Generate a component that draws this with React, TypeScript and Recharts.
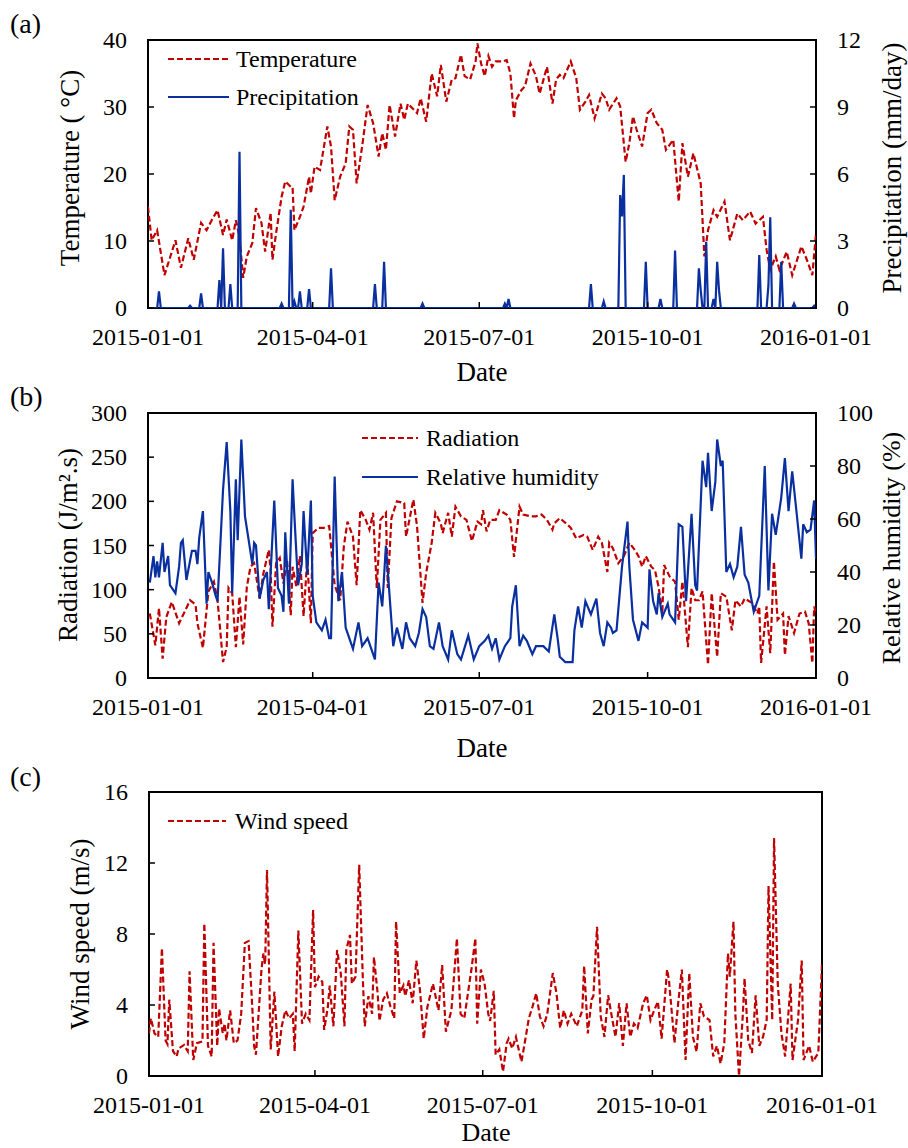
import React from 'react';
import { LineChart, Line, XAxis, YAxis, ReferenceArea, Legend } from 'recharts';

const FONT = '"Liberation Serif", "Times New Roman", Times, serif';
const RED = '#C00000';
const BLUE = '#0A30A0';
const DASH = '6 3';

const dateTicks = [0, 90, 181, 273, 365];
const dateLabels = ['2015-01-01', '2015-04-01', '2015-07-01', '2015-10-01', '2016-01-01'];

const tempTicks = [0, 10, 20, 30, 40];
const precipTicks = [0, 3, 6, 9, 12];
const radTicks = [0, 50, 100, 150, 200, 250, 300];
const rhTicks = [0, 20, 40, 60, 80, 100];
const windTicks = [0, 4, 8, 12, 16];

// [day of year, °C]
const temperature: [number, number][] = [
  [0,15.1],[2,10.1],[5,11.6],[9,4.9],[12,7.5],[15,10.1],[18,6.0],[22,10.4],[25,7.2],[29,12.7],[32,11.6],[35,13.2],[38,14.6],[41,10.9],[43,13.2],[46,10.1],[48,13.1],[50,10.6],[52,4.5],[54,7.7],[57,9.7],[59,14.9],[62,12.7],[64,8.4],[67,14.2],[68,7.2],[70,11.2],[73,16.6],[75,18.9],[78,18.1],[79,18.1],[80,11.6],[83,13.6],[85,15.1],[88,19.6],[89,17.1],[91,21.1],[94,20.6],[98,27.1],[100,24.1],[102,16.1],[105,19.6],[108,21.6],[110,27.1],[112,26.6],[114,18.6],[117,24.1],[120,30.3],[123,27.6],[126,22.6],[128,26.1],[130,23.6],[132,30.3],[135,25.6],[138,30.5],[140,28.1],[142,30.5],[147,29.1],[149,31.3],[152,27.8],[155,35.0],[158,31.6],[160,36.3],[163,30.8],[166,34.1],[168,34.3],[171,37.8],[173,34.6],[176,34.1],[179,36.8],[180,39.5],[182,36.5],[184,34.6],[186,37.6],[188,36.0],[190,36.8],[194,36.8],[196,37.0],[198,35.0],[200,28.3],[201,31.0],[204,32.5],[206,33.1],[209,36.5],[212,34.6],[214,32.0],[218,36.0],[221,30.5],[223,34.1],[225,34.8],[227,34.3],[231,36.8],[234,34.3],[236,29.6],[239,30.8],[241,31.8],[244,28.3],[248,32.0],[250,31.3],[252,29.6],[256,31.3],[258,30.1],[261,21.8],[263,24.6],[265,28.6],[267,26.6],[270,24.1],[273,29.1],[275,29.6],[278,27.6],[281,26.6],[283,23.6],[287,25.1],[290,15.9],[292,24.6],[295,19.6],[298,23.1],[302,18.6],[304,7.7],[306,11.6],[309,14.6],[311,13.6],[315,15.9],[318,10.1],[322,14.1],[325,13.1],[329,14.4],[332,12.6],[336,13.6],[338,8.7],[340,5.7],[343,7.7],[345,5.7],[349,8.4],[352,4.9],[354,6.6],[357,9.2],[360,7.2],[363,4.9],[365,11.1],
];

// rainy days [day of year, mm/day]; all other days 0
const precipEvents: [number, number][] = [
  [6,0.75],[23,0.1],[29,0.65],[39,1.25],[41,2.67],[45,1.07],[50,7.0],[73,0.2],[78,4.4],[80,0.3],[83,0.75],[88,0.85],[100,1.78],[124,1.07],[129,2.07],[150,0.2],[195,0.2],[197,0.4],[242,1.07],[249,0.3],[258,5.06],[259,4.1],[260,5.96],[272,2.07],[280,0.4],[288,2.57],[301,1.78],[302,0.8],[305,2.97],[309,0.4],[311,2.07],[312,0.8],[334,2.37],[339,1.0],[340,4.06],[346,2.07],[353,0.2],[364,0.1],
];

// [day of year, J/m2.s]
const radiation: [number, number][] = [
  [1,73],[4,37],[6,79],[8,22],[10,69],[13,86],[17,62],[23,88],[26,83],[27,62],[30,34],[33,98],[36,109],[38,88],[41,18],[43,35],[44,102],[46,96],[48,35],[50,92],[52,38],[54,103],[56,126],[58,130],[61,90],[63,118],[66,145],[67,122],[68,58],[70,130],[72,136],[74,107],[76,134],[78,71],[79,126],[81,104],[83,138],[85,70],[87,134],[89,62],[90,164],[93,170],[96,170],[99,172],[102,105],[105,88],[107,149],[109,177],[112,160],[114,105],[116,190],[119,179],[121,168],[123,187],[125,102],[127,179],[130,187],[131,102],[133,181],[136,200],[140,198],[141,160],[145,202],[147,172],[150,85],[152,119],[155,153],[157,187],[160,175],[161,164],[164,187],[166,160],[168,194],[171,183],[174,179],[177,155],[180,177],[182,174],[183,190],[185,166],[187,179],[190,179],[192,190],[196,185],[198,179],[200,137],[201,156],[203,194],[205,185],[209,183],[212,183],[215,185],[218,179],[221,168],[222,175],[225,181],[229,174],[231,170],[234,158],[238,162],[240,160],[243,145],[246,160],[248,153],[251,120],[252,153],[254,147],[257,130],[260,138],[263,153],[266,145],[268,138],[270,126],[272,138],[275,126],[277,122],[279,103],[281,73],[282,128],[285,115],[288,109],[290,66],[292,109],[295,35],[297,102],[299,88],[301,88],[303,98],[306,15],[308,96],[311,24],[313,96],[316,92],[319,54],[321,88],[324,81],[326,90],[330,85],[333,73],[334,81],[335,17],[338,81],[340,28],[342,132],[344,66],[347,73],[348,26],[350,70],[353,51],[356,73],[359,75],[361,62],[363,17],[364,81],[365,73],
];

// [day of year, %]
const humidity: [number, number][] = [
  [1,36],[3,46],[4,38],[5,44],[6,38],[8,51],[9,40],[11,46],[12,35],[15,32],[17,42],[18,51],[19,52],[21,37],[24,48],[26,48],[27,43],[28,53],[30,63],[32,28],[33,40],[35,36],[37,31],[38,29],[41,71],[43,89],[45,63],[46,32],[48,75],[49,52],[51,90],[53,61],[55,52],[57,43],[58,51],[59,50],[61,30],[63,37],[65,40],[66,26],[69,67],[71,34],[73,31],[74,25],[75,55],[77,28],[79,75],[80,61],[82,35],[84,43],[85,63],[87,39],[89,67],[90,31],[92,21],[95,18],[97,22],[99,15],[100,15],[102,76],[104,29],[106,40],[108,19],[109,17],[112,11],[115,21],[117,12],[120,15],[122,11],[124,7],[126,36],[128,27],[130,50],[132,31],[134,12],[136,19],[139,11],[141,21],[143,15],[146,12],[148,17],[150,26],[152,23],[154,12],[156,11],[159,21],[161,12],[164,7],[166,18],[169,9],[171,7],[175,16],[178,7],[181,12],[184,14],[186,16],[188,11],[190,15],[192,7],[195,12],[198,15],[199,27],[201,35],[203,12],[205,16],[207,14],[210,9],[212,12],[216,12],[219,10],[222,24],[224,14],[225,8],[228,6],[232,6],[233,18],[235,27],[237,19],[239,29],[242,24],[243,26],[245,30],[247,17],[249,12],[251,21],[253,19],[254,17],[256,18],[259,42],[262,59],[263,42],[265,22],[268,14],[270,21],[273,19],[274,41],[276,29],[278,24],[279,32],[281,23],[284,28],[285,24],[288,21],[290,58],[292,57],[294,29],[297,62],[299,35],[300,33],[303,82],[305,72],[306,85],[308,63],[310,74],[311,90],[313,80],[314,82],[316,40],[318,43],[320,38],[322,42],[324,57],[326,39],[328,36],[331,25],[334,31],[337,80],[339,33],[341,62],[343,54],[346,68],[348,83],[350,63],[352,78],[354,65],[357,45],[358,58],[360,55],[362,56],[364,67],[365,45],
];

// [day of year, m/s]
const windSpeed: [number, number][] = [
  [0,2.4],[1,3.25],[3,2.4],[5,2.2],[7,7.2],[9,2.0],[10,1.8],[11,4.3],[13,1.4],[15,1.1],[16,1.55],[19,1.75],[21,1.4],[22,5.9],[24,0.9],[26,1.85],[29,1.95],[30,8.6],[32,1.7],[34,1.1],[35,7.5],[37,1.7],[38,3.8],[40,2.4],[41,2.95],[42,2.0],[44,3.7],[46,1.85],[48,2.0],[50,3.5],[52,7.5],[54,7.6],[56,3.9],[57,1.7],[58,1.2],[61,6.0],[62,6.9],[63,6.3],[64,11.6],[66,1.5],[68,4.75],[70,1.1],[72,2.8],[74,3.7],[76,3.25],[78,3.5],[79,1.4],[81,8.2],[83,2.95],[85,3.5],[87,3.15],[89,9.35],[90,5.0],[92,5.6],[94,5.3],[95,2.6],[97,3.9],[98,5.1],[100,2.8],[102,7.1],[104,5.8],[106,2.8],[107,7.1],[109,7.95],[110,5.2],[112,5.6],[114,11.9],[116,5.4],[117,2.8],[119,4.5],[121,3.5],[122,6.7],[124,4.66],[125,3.1],[127,4.3],[129,4.66],[131,3.9],[133,3.25],[134,8.7],[136,4.66],[138,5.1],[139,4.5],[141,5.4],[143,4.1],[145,6.5],[147,4.8],[149,2.1],[151,3.9],[154,5.2],[157,3.7],[159,6.25],[161,2.5],[164,3.7],[167,7.75],[169,3.5],[171,3.25],[174,5.4],[175,6.1],[177,7.75],[178,2.95],[180,6.0],[182,5.2],[184,3.5],[185,3.1],[187,4.8],[188,1.2],[190,1.5],[192,0.25],[194,1.85],[195,2.1],[197,1.55],[199,2.2],[202,0.8],[204,2.0],[206,3.25],[208,3.9],[210,4.66],[212,3.35],[214,2.8],[216,3.5],[219,5.8],[221,4.66],[223,2.7],[225,3.7],[227,2.95],[229,3.5],[232,2.8],[235,3.7],[236,6.2],[238,2.4],[240,4.3],[241,4.5],[243,8.4],[245,3.35],[247,2.2],[249,4.55],[251,3.35],[253,2.2],[255,4.1],[257,1.7],[259,4.1],[261,2.2],[263,2.95],[265,2.7],[268,4.1],[270,4.55],[272,3.15],[274,3.7],[276,4.2],[278,2.1],[281,6.0],[282,5.4],[285,1.85],[287,4.1],[289,6.0],[291,0.9],[293,5.8],[295,2.2],[297,1.37],[299,4.1],[301,3.35],[304,3.15],[306,1.1],[308,1.7],[310,0.7],[312,1.85],[314,6.9],[315,5.6],[317,8.7],[318,3.5],[320,0],[322,3.35],[323,5.5],[325,2.0],[327,1.3],[329,4.55],[331,1.7],[333,2.2],[335,3.15],[336,10.7],[338,3.15],[339,13.4],[341,5.2],[343,2.4],[345,1.1],[348,5.2],[349,0.9],[352,3.15],[354,6.5],[355,0.9],[358,1.7],[360,0.8],[363,1.3],[365,6.3],
];

const toPts = (arr: [number, number][]) => arr.map(([day, value]) => ({ day, value }));
const tempData = toPts(temperature);
const precipData = (() => {
  const daily = Array.from({ length: 366 }, (_, d) => ({ day: d, value: 0 }));
  precipEvents.forEach(([d, v]) => { daily[d].value = v; });
  return daily;
})();
const radData = toPts(radiation);
const rhData = toPts(humidity);
const windData = toPts(windSpeed);

const TICK_FS = 24;

const XTick = (props: any) => {
  const { x, y, payload } = props;
  const i = dateTicks.indexOf(payload.value);
  return (
    <g>
      <line x1={x} y1={y} x2={x} y2={y - 6} stroke="#000" strokeWidth={1.5} />
      <text x={x} y={y + 29} textAnchor="middle" dominantBaseline="central" fontFamily={FONT} fontSize={TICK_FS} fill="#000">
        {i >= 0 ? dateLabels[i] : ''}
      </text>
    </g>
  );
};

const YTickLeft = (props: any) => {
  const { x, y, payload } = props;
  return (
    <g>
      <line x1={x} y1={y} x2={x + 6} y2={y} stroke="#000" strokeWidth={1.5} />
      <text x={x - 21} y={y} textAnchor="end" dominantBaseline="central" fontFamily={FONT} fontSize={TICK_FS} fill="#000">
        {payload.value}
      </text>
    </g>
  );
};

const YTickRight = (props: any) => {
  const { x, y, payload } = props;
  return (
    <g>
      <line x1={x} y1={y} x2={x - 6} y2={y} stroke="#000" strokeWidth={1.5} />
      <text x={x + 21} y={y} textAnchor="start" dominantBaseline="central" fontFamily={FONT} fontSize={TICK_FS} fill="#000">
        {payload.value}
      </text>
    </g>
  );
};

type LegendSpec = { name: string; color: string; dash?: string };

const makeLegend = (specs: LegendSpec[], width: number, rowY: number[], lineX: [number, number], textX: number) => () => (
  <svg width={width} height={rowY[rowY.length - 1] + 22} style={{ display: 'block', overflow: 'visible' }}>
    {specs.map((it, k) => (
      <g key={k}>
        <line x1={lineX[0]} y1={rowY[k]} x2={lineX[1]} y2={rowY[k]} stroke={it.color} strokeWidth={2.2} strokeDasharray={it.dash} />
        <text x={textX} y={rowY[k]} dominantBaseline="central" fontFamily={FONT} fontSize={24} fill="#000">{it.name}</text>
      </g>
    ))}
  </svg>
);

const legendA = makeLegend(
  [{ name: 'Temperature', color: RED, dash: DASH }, { name: 'Precipitation', color: BLUE }],
  240, [19, 57], [8, 69], 76);
const legendB = makeLegend(
  [{ name: 'Radiation', color: RED, dash: DASH }, { name: 'Relative humidity', color: BLUE }],
  260, [23, 62], [7, 63], 71);
const legendC = makeLegend(
  [{ name: 'Wind speed', color: RED, dash: DASH }],
  220, [21], [8, 66], 75);

const commonX = {
  xAxisId: 'x',
  type: 'number' as const,
  dataKey: 'day',
  domain: [0, 365],
  ticks: dateTicks,
  interval: 0 as const,
  tick: XTick,
  tickSize: 0,
  tickMargin: 0,
  tickLine: false,
  axisLine: false,
  height: 50,
  allowDataOverflow: true,
};

const yCommon = {
  tickSize: 0,
  tickMargin: 0,
  tickLine: false,
  axisLine: false,
  width: 60,
  allowDataOverflow: true,
  interval: 0 as const,
};

const Titles = () => {
  const t = { fontFamily: FONT, fill: '#000' };
  const vt = (x: number, y: number, s: string, key: string, fs = 27) => (
    <text key={key} x={x} y={y} transform={`rotate(-90 ${x} ${y})`} textAnchor="middle" dominantBaseline="central" fontSize={fs} {...t}>{s}</text>
  );
  return (
    <svg width={908} height={1148} style={{ position: 'absolute', left: 0, top: 0, pointerEvents: 'none' }}>
      <text x={10} y={33} fontSize={28} {...t}>(a)</text>
      <text x={10} y={406} fontSize={28} {...t}>(b)</text>
      <text x={10} y={786} fontSize={28} {...t}>(c)</text>
      {vt(70, 168, 'Temperature ( °C)', 'tl')}
      {vt(892, 168, 'Precipitation (mm/day)', 'tr')}
      {vt(68, 545, 'Radiation (J/m².s)', 'rl')}
      {vt(891, 548, 'Relative humidity (%)', 'rr', 26)}
      {vt(80, 934, 'Wind speed (m/s)', 'wl')}
      <text x={482} y={372} textAnchor="middle" dominantBaseline="central" fontSize={27} {...t}>Date</text>
      <text x={482} y={748} textAnchor="middle" dominantBaseline="central" fontSize={27} {...t}>Date</text>
      <text x={486} y={1132} textAnchor="middle" dominantBaseline="central" fontSize={26} {...t}>Date</text>
    </svg>
  );
};

export default function App() {
  return (
    <div style={{ position: 'absolute', left: 0, top: 0, width: 908, height: 1148, background: '#fff', overflow: 'hidden' }}>
      {/* (a) */}
      <div style={{ position: 'absolute', left: 0, top: 0 }}>
        <LineChart width={908} height={390} margin={{ top: 40, right: 32, bottom: 32, left: 88 }}>
          <XAxis {...commonX} />
          <YAxis {...yCommon} yAxisId="l" orientation="left" domain={[0, 40]} ticks={tempTicks} tick={YTickLeft} />
          <YAxis {...yCommon} yAxisId="r" orientation="right" domain={[0, 12]} ticks={precipTicks} tick={YTickRight} />
          <ReferenceArea xAxisId="x" yAxisId="l" x1={0} x2={365} y1={0} y2={40} fill="none" fillOpacity={0} stroke="#000" strokeWidth={2} />
          <Line xAxisId="x" yAxisId="l" data={tempData} dataKey="value" name="Temperature" type="linear" dot={false}
            stroke={RED} strokeWidth={2.2} strokeDasharray={DASH} isAnimationActive={false} />
          <Line xAxisId="x" yAxisId="r" data={precipData} dataKey="value" name="Precipitation" type="linear" dot={false}
            stroke={BLUE} strokeWidth={2.2} isAnimationActive={false} />
          <Legend layout="vertical" align="center" verticalAlign="middle" content={legendA}
            wrapperStyle={{ position: 'absolute', left: 160, top: 40, width: 240, bottom: 'auto', right: 'auto' }} />
        </LineChart>
      </div>
      {/* (b) */}
      <div style={{ position: 'absolute', left: 0, top: 370 }}>
        <LineChart width={908} height={390} margin={{ top: 43, right: 32, bottom: 32, left: 88 }}>
          <XAxis {...commonX} />
          <YAxis {...yCommon} yAxisId="l" orientation="left" domain={[0, 300]} ticks={radTicks} tick={YTickLeft} />
          <YAxis {...yCommon} yAxisId="r" orientation="right" domain={[0, 100]} ticks={rhTicks} tick={YTickRight} />
          <ReferenceArea xAxisId="x" yAxisId="l" x1={0} x2={365} y1={0} y2={300} fill="none" fillOpacity={0} stroke="#000" strokeWidth={2} />
          <Line xAxisId="x" yAxisId="l" data={radData} dataKey="value" name="Radiation" type="linear" dot={false}
            stroke={RED} strokeWidth={2.2} strokeDasharray={DASH} isAnimationActive={false} />
          <Line xAxisId="x" yAxisId="r" data={rhData} dataKey="value" name="Relative humidity" type="linear" dot={false}
            stroke={BLUE} strokeWidth={2.2} isAnimationActive={false} />
          <Legend layout="vertical" align="center" verticalAlign="middle" content={legendB}
            wrapperStyle={{ position: 'absolute', left: 355, top: 45, width: 260, bottom: 'auto', right: 'auto' }} />
        </LineChart>
      </div>
      {/* (c) */}
      <div style={{ position: 'absolute', left: 0, top: 750 }}>
        <LineChart width={908} height={398} margin={{ top: 42, right: 86, bottom: 22, left: 89 }}>
          <XAxis {...commonX} />
          <YAxis {...yCommon} yAxisId="l" orientation="left" domain={[0, 16]} ticks={windTicks} tick={YTickLeft} />
          <ReferenceArea xAxisId="x" yAxisId="l" x1={0} x2={365} y1={0} y2={16} fill="none" fillOpacity={0} stroke="#000" strokeWidth={2} />
          <Line xAxisId="x" yAxisId="l" data={windData} dataKey="value" name="Wind speed" type="linear" dot={false}
            stroke={RED} strokeWidth={2.2} strokeDasharray={DASH} isAnimationActive={false} />
          <Legend layout="vertical" align="center" verticalAlign="middle" content={legendC}
            wrapperStyle={{ position: 'absolute', left: 160, top: 50, width: 220, bottom: 'auto', right: 'auto' }} />
        </LineChart>
      </div>
      <Titles />
    </div>
  );
}
